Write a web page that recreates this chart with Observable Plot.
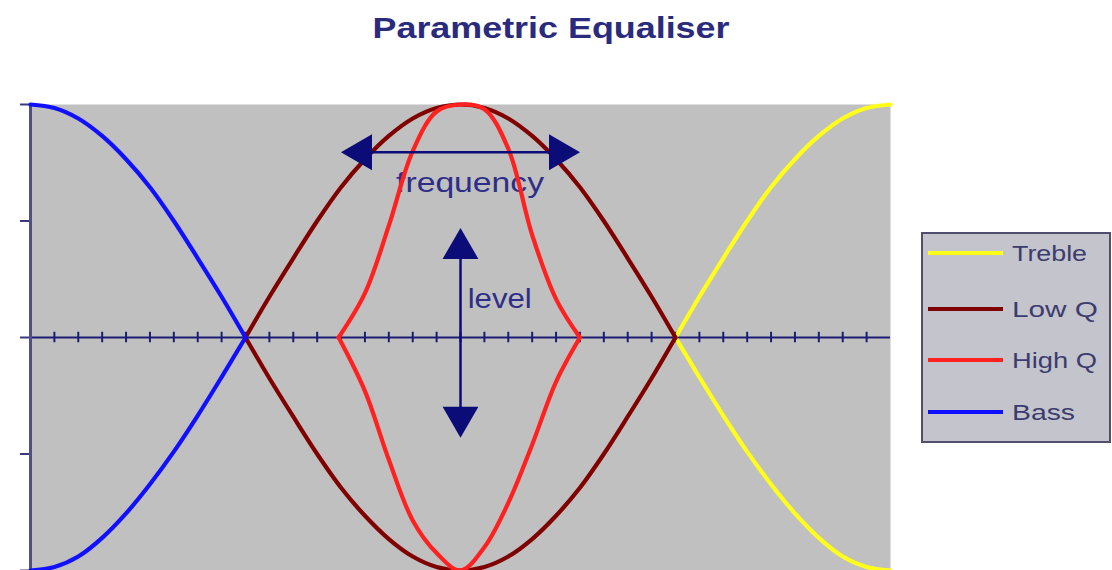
<!DOCTYPE html>
<html><head><meta charset="utf-8">
<script src="https://cdn.jsdelivr.net/npm/d3@7"></script>
<script src="https://cdn.jsdelivr.net/npm/@observablehq/plot@0.6"></script>
<style>
body{margin:0;background:#fff;width:1112px;height:570px;position:relative;overflow:hidden;font-family:"Liberation Sans",Arial,sans-serif}
#title{position:absolute;left:0;top:0}
#chart{position:absolute;left:0;top:96px}
#legend{position:absolute;left:920px;top:231px}
</style></head><body>
<svg id="title" width="1112" height="60"><text x="551" y="38" text-anchor="middle" font-family="Liberation Sans, Arial, sans-serif" font-size="30" font-weight="bold" fill="#2b2b7d" textLength="357" lengthAdjust="spacingAndGlyphs">Parametric Equaliser</text></svg>
<div id="chart"></div>
<svg id="legend" width="192" height="213"></svg>
<script>
// ---- data ----
const seriesNames = ["Treble", "Low Q", "High Q", "Bass"];
const seriesColors = ["#ffff1a", "#800000", "#ff2020", "#1010ff"];

const bassX = [0, 1, 2, 3, 4, 5, 6, 7, 8, 9];
const bassBoost = [2.00, 1.97, 1.88, 1.73, 1.53, 1.29, 1.00, 0.68, 0.35, 0];
const bassCut = [-2.00, -1.97, -1.88, -1.72, -1.51, -1.26, -0.98, -0.67, -0.34, 0];

const lowQX = [9, 10, 11, 12, 13, 14, 15, 16, 17, 18, 19, 20, 21, 22, 23, 24, 25, 26, 27];
const lowQBoost = [0, 0.35, 0.68, 1.00, 1.29, 1.53, 1.73, 1.88, 1.97, 2.00, 1.97, 1.88, 1.73, 1.53, 1.29, 1.00, 0.68, 0.35, 0];
const lowQCut = [0, -0.35, -0.68, -1.00, -1.29, -1.53, -1.73, -1.88, -1.97, -2.00, -1.97, -1.88, -1.73, -1.53, -1.29, -1.00, -0.68, -0.35, 0];

const highQX = [12.9, 14, 15, 16, 17, 18, 19, 20, 21, 22, 23];
const highQBoost = [0, 0.38, 0.96, 1.60, 1.94, 2.00, 1.96, 1.62, 0.88, 0.33, 0];
const highQCut = [0, -0.46, -1.05, -1.57, -1.85, -2.00, -1.80, -1.42, -0.92, -0.38, 0];

const trebleX = [27, 28, 29, 30, 31, 32, 33, 34, 35, 36];
const trebleBoost = [0, 0.35, 0.68, 1.00, 1.29, 1.53, 1.73, 1.88, 1.97, 2.00];
const trebleCut = [0, -0.34, -0.67, -0.98, -1.26, -1.51, -1.72, -1.88, -1.97, -2.00];

const xTicks = [1,2,3,4,5,6,7,8,9,10,11,12,13,14,15,16,17,18,19,20,21,22,23,24,25,26,27,28,29,30,31,32,33,34,35];
const yTicks = [-2, -1, 0, 1, 2];

const freqLabel = [{text: "frequency", x: 18.4, y: 1.33, len: 148}];
const levelLabel = [{text: "level", x: 18.3, y: 0.33, len: 64}];
const hShaft = [{x1: 13.4, x2: 22.6, y: 1.59}];
const vShaft = [{x: 18, y1: 0.8, y2: -0.72}];
const leftHead = [{x: 13.0, y: 1.59}];
const rightHead = [{x: 23.0, y: 1.59}];
const upHead = [{x: 18, y: 0.94}];
const downHead = [{x: 18, y: -0.86}];

// ---- build table ----
const rows = [];
function add(name, xs, ys, branch) {
  xs.forEach((x, i) => rows.push({series: name, branch, key: name + branch, x, y: ys[i]}));
}
add("Treble", trebleX, trebleBoost, "+");
add("Treble", trebleX, trebleCut, "-");
add("Low Q", lowQX, lowQBoost, "+");
add("Low Q", lowQX, lowQCut, "-");
add("High Q", highQX, highQBoost, "+");
add("High Q", highQX, highQCut, "-");
add("Bass", bassX, bassBoost, "+");
add("Bass", bassX, bassCut, "-");

const navy = "#1c1c72";
const arrowNavy = "#0c0c78";
const textNavy = "#2e2e88";
const headR = 13.3, tipOff = 20.6;

const plot = Plot.plot({
  width: 905, height: 474,
  marginTop: 8, marginBottom: 0, marginLeft: 30, marginRight: 15,
  x: {domain: [0, 36], axis: null},
  y: {domain: [-2, 2], axis: null},
  color: {domain: seriesNames, range: seriesColors},
  style: {fontFamily: "Liberation Sans, Arial, sans-serif", background: "transparent"},
  marks: [
    Plot.frame({fill: "#c0c0c0", stroke: "none"}),
    Plot.ruleY([0], {stroke: navy, strokeWidth: 2}),
    Plot.ruleX(xTicks, {x: d => d, y1: -0.045, y2: 0.045, stroke: navy, strokeWidth: 2}),
    Plot.ruleY(yTicks, {y: d => d, x1: -0.42, x2: 0, stroke: "#3a3a7a", strokeWidth: 2}),
    Plot.ruleX([0], {stroke: "#505088", strokeWidth: 3}),
    Plot.text(freqLabel, {x: "x", y: "y", text: "text", textAnchor: "middle", fontSize: 28, fill: textNavy}),
    Plot.text(levelLabel, {x: "x", y: "y", text: "text", textAnchor: "start", fontSize: 28, fill: textNavy}),
    Plot.line(rows, {x: "x", y: "y", z: "key", stroke: "series", strokeWidth: 4.2, curve: "catmull-rom"}),
    Plot.link(hShaft, {x1: "x1", x2: "x2", y1: "y", y2: "y", stroke: arrowNavy, strokeWidth: 2.5}),
    Plot.link(vShaft, {x1: "x", x2: "x", y1: "y1", y2: "y2", stroke: arrowNavy, strokeWidth: 2.5}),
    Plot.dot(leftHead, {x: "x", y: "y", symbol: "triangle", r: headR, rotate: -90, dx: tipOff, fill: arrowNavy, stroke: "none"}),
    Plot.dot(rightHead, {x: "x", y: "y", symbol: "triangle", r: headR, rotate: 90, dx: -tipOff, fill: arrowNavy, stroke: "none"}),
    Plot.dot(upHead, {x: "x", y: "y", symbol: "triangle", r: headR, rotate: 0, dy: tipOff, fill: arrowNavy, stroke: "none"}),
    Plot.dot(downHead, {x: "x", y: "y", symbol: "triangle", r: headR, rotate: 180, dy: -tipOff, fill: arrowNavy, stroke: "none"})
  ]
});
document.getElementById("chart").append(plot);

// stretch annotation text to the widths seen in the picture
const allLabels = freqLabel.concat(levelLabel);
d3.select(plot).selectAll("text").each(function() {
  const t = this.textContent;
  const l = allLabels.find(d => d.text === t);
  if (l) { this.setAttribute("textLength", l.len); this.setAttribute("lengthAdjust", "spacingAndGlyphs"); }
});

// ---- legend ----
const legendLens = [75, 86, 85, 63];
const legendYs = [22, 78, 129, 181];
const lg = d3.select("#legend");
lg.append("rect").attr("x", 2).attr("y", 2).attr("width", 188).attr("height", 209)
  .attr("fill", "#c4c4cc").attr("stroke", "#50506e").attr("stroke-width", 2);
seriesNames.forEach((name, i) => {
  lg.append("line").attr("x1", 8).attr("x2", 83).attr("y1", legendYs[i]).attr("y2", legendYs[i])
    .attr("stroke", seriesColors[i]).attr("stroke-width", 4);
  lg.append("text").attr("x", 92).attr("y", legendYs[i] + 8)
    .attr("font-family", "Liberation Sans, Arial, sans-serif").attr("font-size", 22)
    .attr("fill", "#3c3c6e").attr("textLength", legendLens[i]).attr("lengthAdjust", "spacingAndGlyphs")
    .text(name);
});
</script>
</body></html>
